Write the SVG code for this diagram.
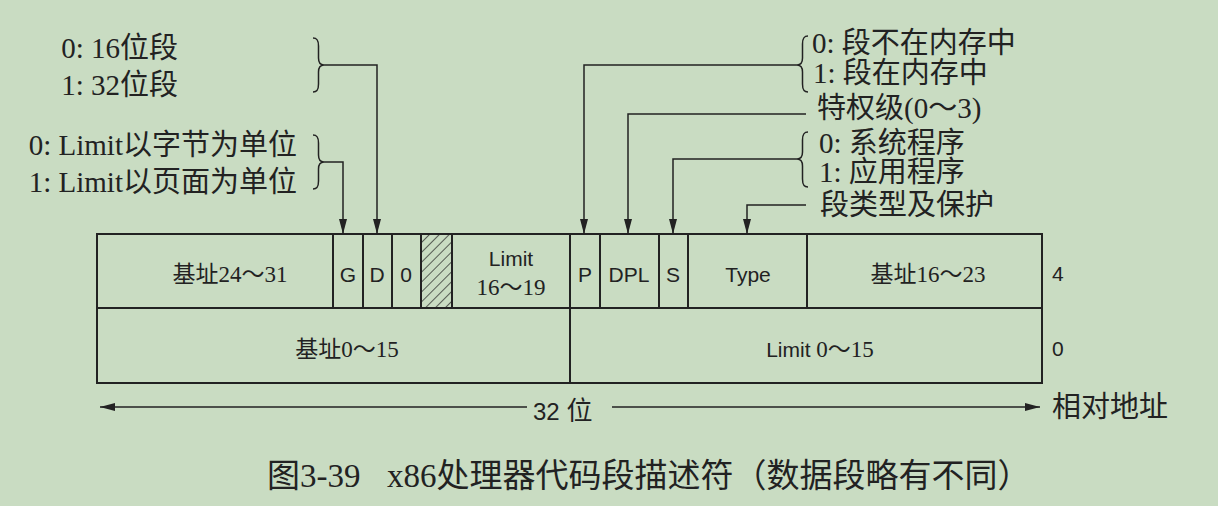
<svg xmlns="http://www.w3.org/2000/svg" width="1218" height="506" viewBox="0 0 1218 506">
<style>
.ann{font-family:"Liberation Serif","Noto Sans CJK SC",serif;font-size:29px;fill:#222}
.lab{font-family:"Liberation Sans","Noto Sans CJK SC",sans-serif;font-size:21px;fill:#222}
.num{font-family:"Liberation Serif","Noto Sans CJK SC",serif;font-size:23px;fill:#222}
.cap{font-family:"Liberation Serif","Noto Sans CJK SC",serif;font-size:33px;fill:#222}
.cell{fill:none;stroke:#222;stroke-width:2}
.brace{fill:none;stroke:#222;stroke-width:1.5}
.conn{fill:none;stroke:#222;stroke-width:1.5;marker-end:url(#arr)}
</style>
<defs>
<marker id="arr" viewBox="0 0 15 8" refX="15" refY="4" markerWidth="15" markerHeight="8" markerUnits="userSpaceOnUse" orient="auto">
<path d="M0,0 L15,4 L0,8 Z" fill="#222"/>
</marker>
<pattern id="hatch" patternUnits="userSpaceOnUse" width="7" height="7" patternTransform="rotate(45)">
<line x1="0" y1="0" x2="0" y2="7" stroke="#222" stroke-width="1.4"/>
</pattern>
</defs>
<rect x="0" y="0" width="1218" height="506" fill="#c9dcc2"/>

<g id="descriptor">
<rect class="cell" x="97" y="234" width="945" height="149"/>
<line class="cell" x1="97" y1="308" x2="1042" y2="308"/>
</g>
<g id="base24-31"><line class="cell" x1="333" y1="234" x2="333" y2="308"/><text class="num" x="230" y="282" text-anchor="middle">基址24～31</text></g>
<g id="G"><line class="cell" x1="363" y1="234" x2="363" y2="308"/><text class="lab" x="348" y="282" text-anchor="middle">G</text></g>
<g id="D"><line class="cell" x1="392" y1="234" x2="392" y2="308"/><text class="lab" x="377" y="282" text-anchor="middle">D</text></g>
<g id="zero"><line class="cell" x1="421" y1="234" x2="421" y2="308"/><text class="lab" x="406" y="282" text-anchor="middle">0</text></g>
<g id="avl"><rect x="421" y="234" width="31" height="74" fill="url(#hatch)"/><line class="cell" x1="452" y1="234" x2="452" y2="308"/></g>
<g id="limit16-19"><line class="cell" x1="570" y1="234" x2="570" y2="383"/><text class="lab" x="511" y="266" text-anchor="middle">Limit</text><text class="num" x="511" y="295" text-anchor="middle">16～19</text></g>
<g id="P"><line class="cell" x1="600" y1="234" x2="600" y2="308"/><text class="lab" x="585" y="282" text-anchor="middle">P</text></g>
<g id="DPL"><line class="cell" x1="659" y1="234" x2="659" y2="308"/><text class="lab" x="629" y="282" text-anchor="middle">DPL</text></g>
<g id="S"><line class="cell" x1="688" y1="234" x2="688" y2="308"/><text class="lab" x="673" y="282" text-anchor="middle">S</text></g>
<g id="Type"><line class="cell" x1="807" y1="234" x2="807" y2="308"/><text class="lab" x="748" y="282" text-anchor="middle">Type</text></g>
<g id="base16-23"><text class="num" x="928" y="282" text-anchor="middle">基址16～23</text></g>
<g id="base0-15"><text class="num" x="347" y="357" text-anchor="middle">基址0～15</text></g>
<g id="limit0-15"><text x="820" y="357" text-anchor="middle"><tspan class="lab">Limit </tspan><tspan class="num">0～15</tspan></text></g>
<g id="offsets"><text class="lab" x="1052" y="281">4</text><text class="lab" x="1052" y="356">0</text></g>

<g id="ann-D">
<text class="ann" x="178" y="58" text-anchor="end">0: 16位段</text>
<text class="ann" x="178" y="95" text-anchor="end">1: 32位段</text>
<path class="brace" d="M313,38 C317,38 318.5,40 318.5,46 L318.5,58 C318.5,63 320,65 324,65 C320,65 318.5,67 318.5,72 L318.5,84 C318.5,90 317,92 313,92"/>
</g>
<g id="ann-G">
<text class="ann" x="297" y="155" text-anchor="end">0: Limit以字节为单位</text>
<text class="ann" x="297" y="192" text-anchor="end">1: Limit以页面为单位</text>
<path class="brace" d="M313,135 C317,135 318.5,137 318.5,143 L318.5,155 C318.5,160 320,162 324,162 C320,162 318.5,164 318.5,169 L318.5,181 C318.5,187 317,189 313,189"/>
</g>
<g id="ann-P">
<text class="ann" x="812" y="53">0: 段不在内存中</text>
<text class="ann" x="813" y="83">1: 段在内存中</text>
<path class="brace" d="M808,36 C804,36 802.5,38 802.5,44 L802.5,58 C802.5,63 801,65 797,65 C801,65 802.5,67 802.5,72 L802.5,84 C802.5,90 804,92 808,92"/>
</g>
<g id="ann-DPL"><text class="ann" x="817" y="118">特权级(0～3)</text></g>
<g id="ann-S">
<text class="ann" x="819" y="153">0: 系统程序</text>
<text class="ann" x="819" y="182">1: 应用程序</text>
<path class="brace" d="M808,132 C804,132 802.5,134 802.5,140 L802.5,152 C802.5,157 801,159 797,159 C801,159 802.5,161 802.5,166 L802.5,179 C802.5,185 804,187 808,187"/>
</g>
<g id="ann-Type"><text class="ann" x="820" y="215">段类型及保护</text></g>

<g id="connectors">
<path class="conn" d="M324,65 H377 V234"/>
<path class="conn" d="M324,162 H343 V234"/>
<path class="conn" d="M797,65 H584 V234"/>
<path class="conn" d="M806,114 H628 V234"/>
<path class="conn" d="M797,159 H673 V234"/>
<path class="conn" d="M806,205 H747 V234"/>
<path class="conn" d="M527,407 H100"/>
<path class="conn" d="M612,407 H1040"/>
</g>

<g id="width-label"><text x="533" y="420"><tspan class="lab" style="font-size:24px">32 </tspan><tspan class="ann" style="font-size:26px">位</tspan></text></g>
<g id="rel-addr"><text class="ann" x="1052" y="417">相对地址</text></g>
<g id="caption"><text class="cap" x="267" y="487">图3-39</text><text class="cap" x="387" y="487">x86处理器代码段描述符（数据段略有不同）</text></g>
</svg>
